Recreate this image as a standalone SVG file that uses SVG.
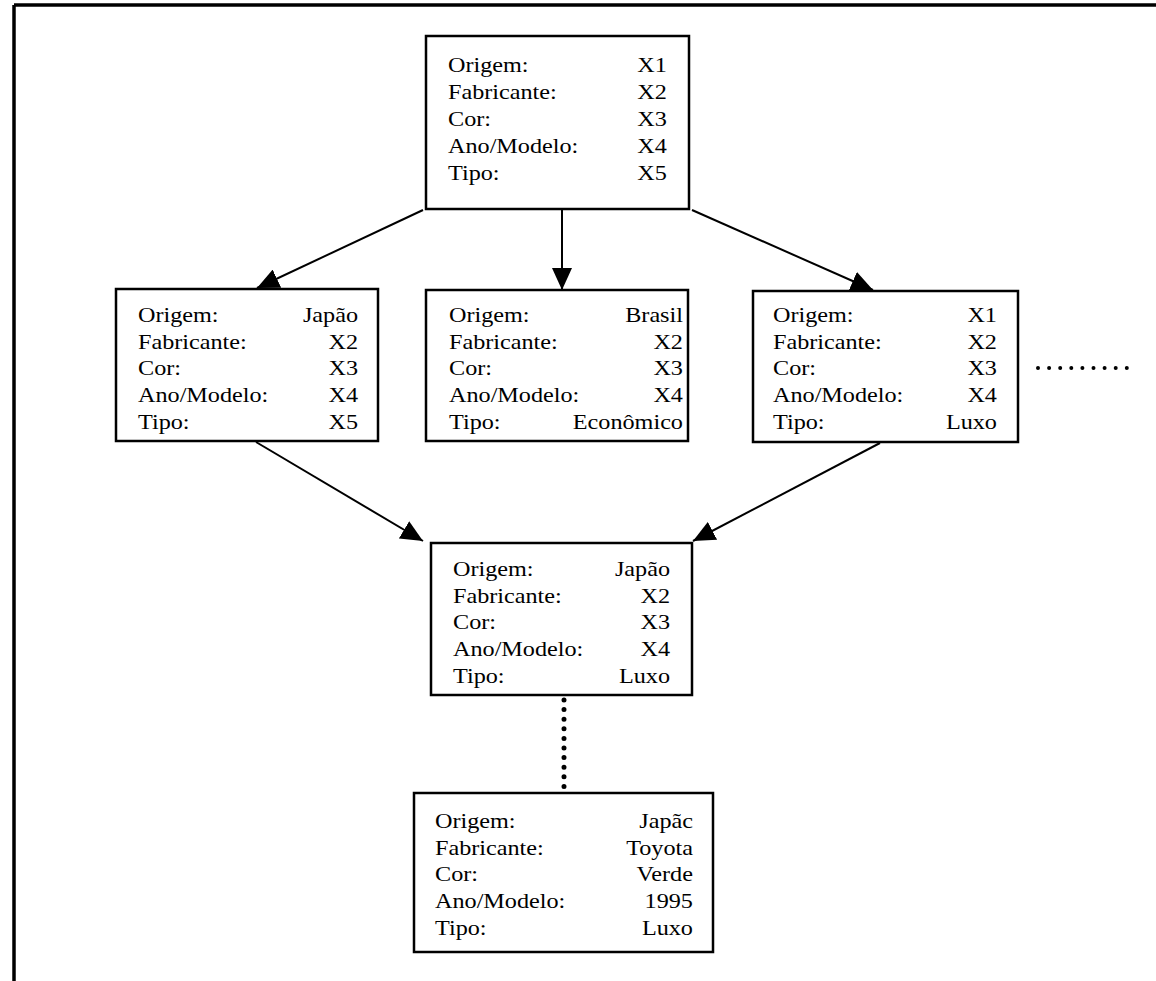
<svg xmlns="http://www.w3.org/2000/svg" width="1156" height="981" viewBox="0 0 1156 981">
  <style>
    .box { fill: #fff; stroke: #000; stroke-width: 2.5; }
    .frame { stroke: #000; stroke-width: 3.5; fill: none; }
    text { font-family: "Liberation Serif", "Times New Roman", serif; font-size: 22px; fill: #000; }
    .v { text-anchor: end; }
    .edge { stroke: #000; stroke-width: 2; fill: none; }
    .dots { stroke: #000; stroke-linecap: round; fill: none; }
  </style>
  <defs>
    <marker id="head" markerUnits="userSpaceOnUse" markerWidth="24" markerHeight="20" refX="22" refY="10" orient="auto">
      <path d="M0,0 L22,10 L0,20 z" fill="#000"/>
    </marker>
  </defs>

  <rect width="1156" height="981" fill="#fff"/>

  <!-- page border -->
  <line class="frame" x1="14" y1="5" x2="1156" y2="5"/>
  <line class="frame" x1="14" y1="5" x2="14" y2="981"/>

  <!-- connectors -->
  <g id="connectors">
    <line class="edge" x1="423" y1="210" x2="257" y2="288" marker-end="url(#head)"/>
    <line class="edge" x1="562" y1="209" x2="562" y2="290" marker-end="url(#head)"/>
    <line class="edge" x1="692" y1="210" x2="873" y2="290" marker-end="url(#head)"/>
    <line class="edge" x1="256" y1="442" x2="423" y2="541" marker-end="url(#head)"/>
    <line class="edge" x1="880" y1="443" x2="693" y2="541" marker-end="url(#head)"/>
    <line class="dots" stroke-width="4" stroke-dasharray="0 11.1" x1="1038" y1="368" x2="1128" y2="368"/>
    <line class="dots" stroke-width="5" stroke-dasharray="0 9.6" x1="564" y1="700" x2="564" y2="788"/>
  </g>

  <!-- root: all attributes open -->
  <g id="node-root">
    <rect class="box" x="426" y="36" width="263" height="173"/>
    <g transform="translate(448 0) scale(1.1 1)">
      <text x="0" y="72">Origem:</text><text class="v" x="199" y="72">X1</text>
      <text x="0" y="99">Fabricante:</text><text class="v" x="199" y="99">X2</text>
      <text x="0" y="126">Cor:</text><text class="v" x="199" y="126">X3</text>
      <text x="0" y="153">Ano/Modelo:</text><text class="v" x="199" y="153">X4</text>
      <text x="0" y="180">Tipo:</text><text class="v" x="199" y="180">X5</text>
    </g>
  </g>

  <g id="node-japao">
    <rect class="box" x="116" y="289" width="262" height="152"/>
    <g transform="translate(138 0) scale(1.1 1)">
      <text x="0" y="322">Origem:</text><text class="v" x="200" y="322">Japão</text>
      <text x="0" y="348.75">Fabricante:</text><text class="v" x="200" y="348.75">X2</text>
      <text x="0" y="375.5">Cor:</text><text class="v" x="200" y="375.5">X3</text>
      <text x="0" y="402.25">Ano/Modelo:</text><text class="v" x="200" y="402.25">X4</text>
      <text x="0" y="429">Tipo:</text><text class="v" x="200" y="429">X5</text>
    </g>
  </g>

  <g id="node-brasil">
    <rect class="box" x="426" y="290" width="262" height="151"/>
    <g transform="translate(449 0) scale(1.1 1)">
      <text x="0" y="322">Origem:</text><text class="v" x="212.7" y="322">Brasil</text>
      <text x="0" y="348.75">Fabricante:</text><text class="v" x="212.7" y="348.75">X2</text>
      <text x="0" y="375.5">Cor:</text><text class="v" x="212.7" y="375.5">X3</text>
      <text x="0" y="402.25">Ano/Modelo:</text><text class="v" x="212.7" y="402.25">X4</text>
      <text x="0" y="429">Tipo:</text><text class="v" x="212.7" y="429">Econômico</text>
    </g>
  </g>

  <g id="node-luxo">
    <rect class="box" x="753" y="291" width="265" height="151"/>
    <g transform="translate(773 0) scale(1.1 1)">
      <text x="0" y="322">Origem:</text><text class="v" x="203.6" y="322">X1</text>
      <text x="0" y="348.75">Fabricante:</text><text class="v" x="203.6" y="348.75">X2</text>
      <text x="0" y="375.5">Cor:</text><text class="v" x="203.6" y="375.5">X3</text>
      <text x="0" y="402.25">Ano/Modelo:</text><text class="v" x="203.6" y="402.25">X4</text>
      <text x="0" y="429">Tipo:</text><text class="v" x="203.6" y="429">Luxo</text>
    </g>
  </g>

  <g id="node-japao-luxo">
    <rect class="box" x="431" y="543" width="261" height="152"/>
    <g transform="translate(453 0) scale(1.1 1)">
      <text x="0" y="576">Origem:</text><text class="v" x="197.3" y="576">Japão</text>
      <text x="0" y="602.75">Fabricante:</text><text class="v" x="197.3" y="602.75">X2</text>
      <text x="0" y="629.5">Cor:</text><text class="v" x="197.3" y="629.5">X3</text>
      <text x="0" y="656.25">Ano/Modelo:</text><text class="v" x="197.3" y="656.25">X4</text>
      <text x="0" y="683">Tipo:</text><text class="v" x="197.3" y="683">Luxo</text>
    </g>
  </g>

  <g id="node-instance">
    <rect class="box" x="414" y="793" width="299" height="159"/>
    <g transform="translate(435 0) scale(1.1 1)">
      <text x="0" y="828">Origem:</text><text class="v" x="234.5" y="828">Japãc</text>
      <text x="0" y="854.7">Fabricante:</text><text class="v" x="234.5" y="854.7">Toyota</text>
      <text x="0" y="881.4">Cor:</text><text class="v" x="234.5" y="881.4">Verde</text>
      <text x="0" y="908">Ano/Modelo:</text><text class="v" x="234.5" y="908">1995</text>
      <text x="0" y="935">Tipo:</text><text class="v" x="234.5" y="935">Luxo</text>
    </g>
  </g>
</svg>
